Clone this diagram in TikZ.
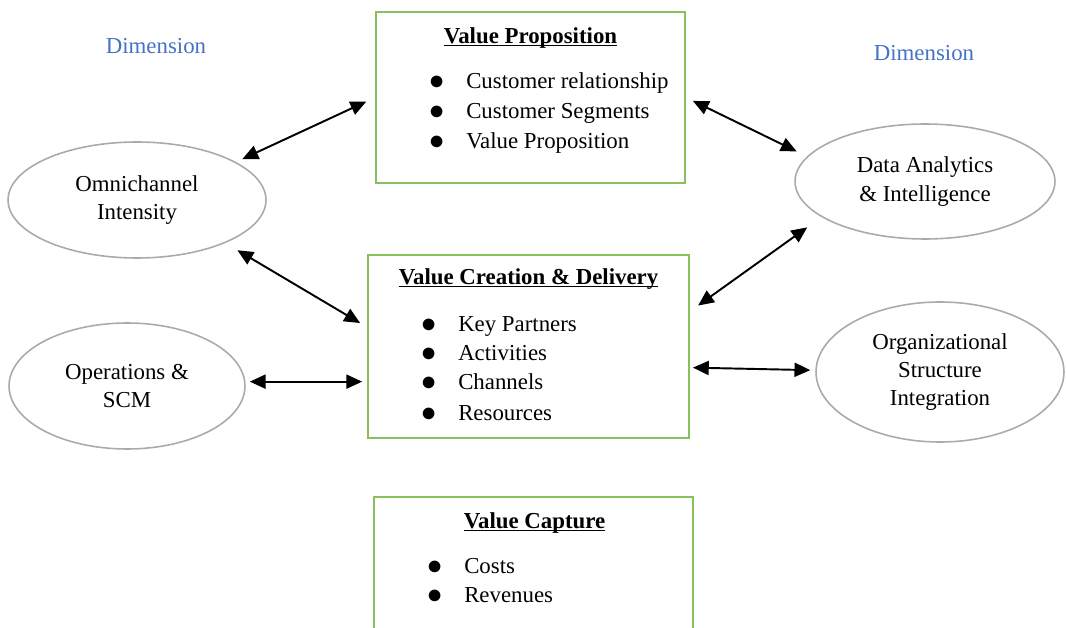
\documentclass[tikz,border=0pt]{standalone}
\usepackage{fontspec}
\setmainfont{Liberation Serif}
\usetikzlibrary{shapes.geometric,arrows.meta}
\definecolor{boxgreen}{RGB}{137,192,92}
\definecolor{dimblue}{RGB}{68,114,196}
\definecolor{ellgray}{RGB}{170,170,170}
\newcommand{\uln}[1]{\underline{\smash{#1}}}
\newcommand{\bitem}[1]{\makebox[21pt][l]{\raisebox{-0.6pt}{\fontsize{16}{16}\selectfont$\bullet$}}#1}
\begin{document}
\begin{tikzpicture}[x=0.02cm,y=-0.02cm,
    every node/.style={font=\fontsize{13}{16}\selectfont},
    block/.style={draw=boxgreen,line width=1.1pt,inner sep=0pt},
    dim/.style={ellipse,draw=ellgray,line width=0.9pt,inner sep=0pt,align=center},
    heading/.style={font=\fontsize{13}{16}\selectfont\bfseries},
    point/.style={anchor=west,inner sep=0pt,text height=9pt,text depth=3pt},
    link/.style={{Triangle[length=9pt,width=8pt]}-{Triangle[length=9pt,width=8pt]},line width=1.1pt}]
    \useasboundingbox (0,0) rectangle (1066,628);
    \clip (0,0) rectangle (1066,628);
    \node[block,minimum width=6.18cm,minimum height=3.42cm] (vp) at (530.5,97.5) {};
    \node[block,minimum width=6.42cm,minimum height=3.66cm] (vcd) at (528.5,346.5) {};
    \node[block,minimum width=6.38cm,minimum height=3.6cm] (vc) at (533.5,587) {};
    \node[heading] (vptitle) at (530.5,45) {\uln{Value Proposition}};
    \node[point] (vp1) at (429,83) {\bitem{Customer relationship}};
    \node[point] (vp2) at (429,113) {\bitem{Customer Segments}};
    \node[point] (vp3) at (429,143) {\bitem{Value Proposition}};
    \node[heading] (vcdtitle) at (528.5,286) {\uln{Value Creation \& Delivery}};
    \node[point] (vcd1) at (421,326) {\bitem{Key Partners}};
    \node[point] (vcd2) at (421,355) {\bitem{Activities}};
    \node[point] (vcd3) at (421,384) {\bitem{Channels}};
    \node[point] (vcd4) at (421,415) {\bitem{Resources}};
    \node[heading] (vctitle) at (534.5,530) {\uln{Value Capture}};
    \node[point] (vc1) at (427,568) {\bitem{Costs}};
    \node[point] (vc2) at (427,597) {\bitem{Revenues}};
    \node[dim,minimum width=5.16cm,minimum height=2.32cm] (omni) at (137,200) {Omnichannel\\Intensity};
    \node[dim,minimum width=4.72cm,minimum height=2.52cm] (ops) at (127,386) {Operations \&\\SCM};
    \node[dim,minimum width=5.2cm,minimum height=2.3cm] (data) at (925,181.5) {Data Analytics\\\& Intelligence};
    \node[dim,minimum width=4.96cm,minimum height=2.8cm] (org) at (940,372) {Organizational\\Structure\\Integration};
    \node[text=dimblue] (dimleft) at (156,46) {Dimension};
    \node[text=dimblue] (dimright) at (924,53) {Dimension};
    \draw[link,shorten <=4pt,shorten >=5.5pt] (omni.21) -- (vp.west);
    \draw[link,shorten <=8pt,shorten >=4.6pt] (omni.-26) -- ([yshift=11pt]vcd.west);
    \draw[link,shorten <=2.3pt,shorten >=2.8pt] ([yshift=-20pt]vcd.west -| ops.east) -- ([yshift=-20pt]vcd.west);
    \draw[link,shorten <=4.4pt,shorten >=6.5pt] (vp.east) -- (data.168);
    \draw[link,shorten <=5.7pt,shorten >=10pt] ([yshift=20pt]vcd.east) -- (data.199);
    \draw[link,shorten <=1.7pt,shorten >=2.8pt] ([yshift=-12pt]vcd.east) -- ([yshift=1pt]org.west);
\end{tikzpicture}
\end{document}
